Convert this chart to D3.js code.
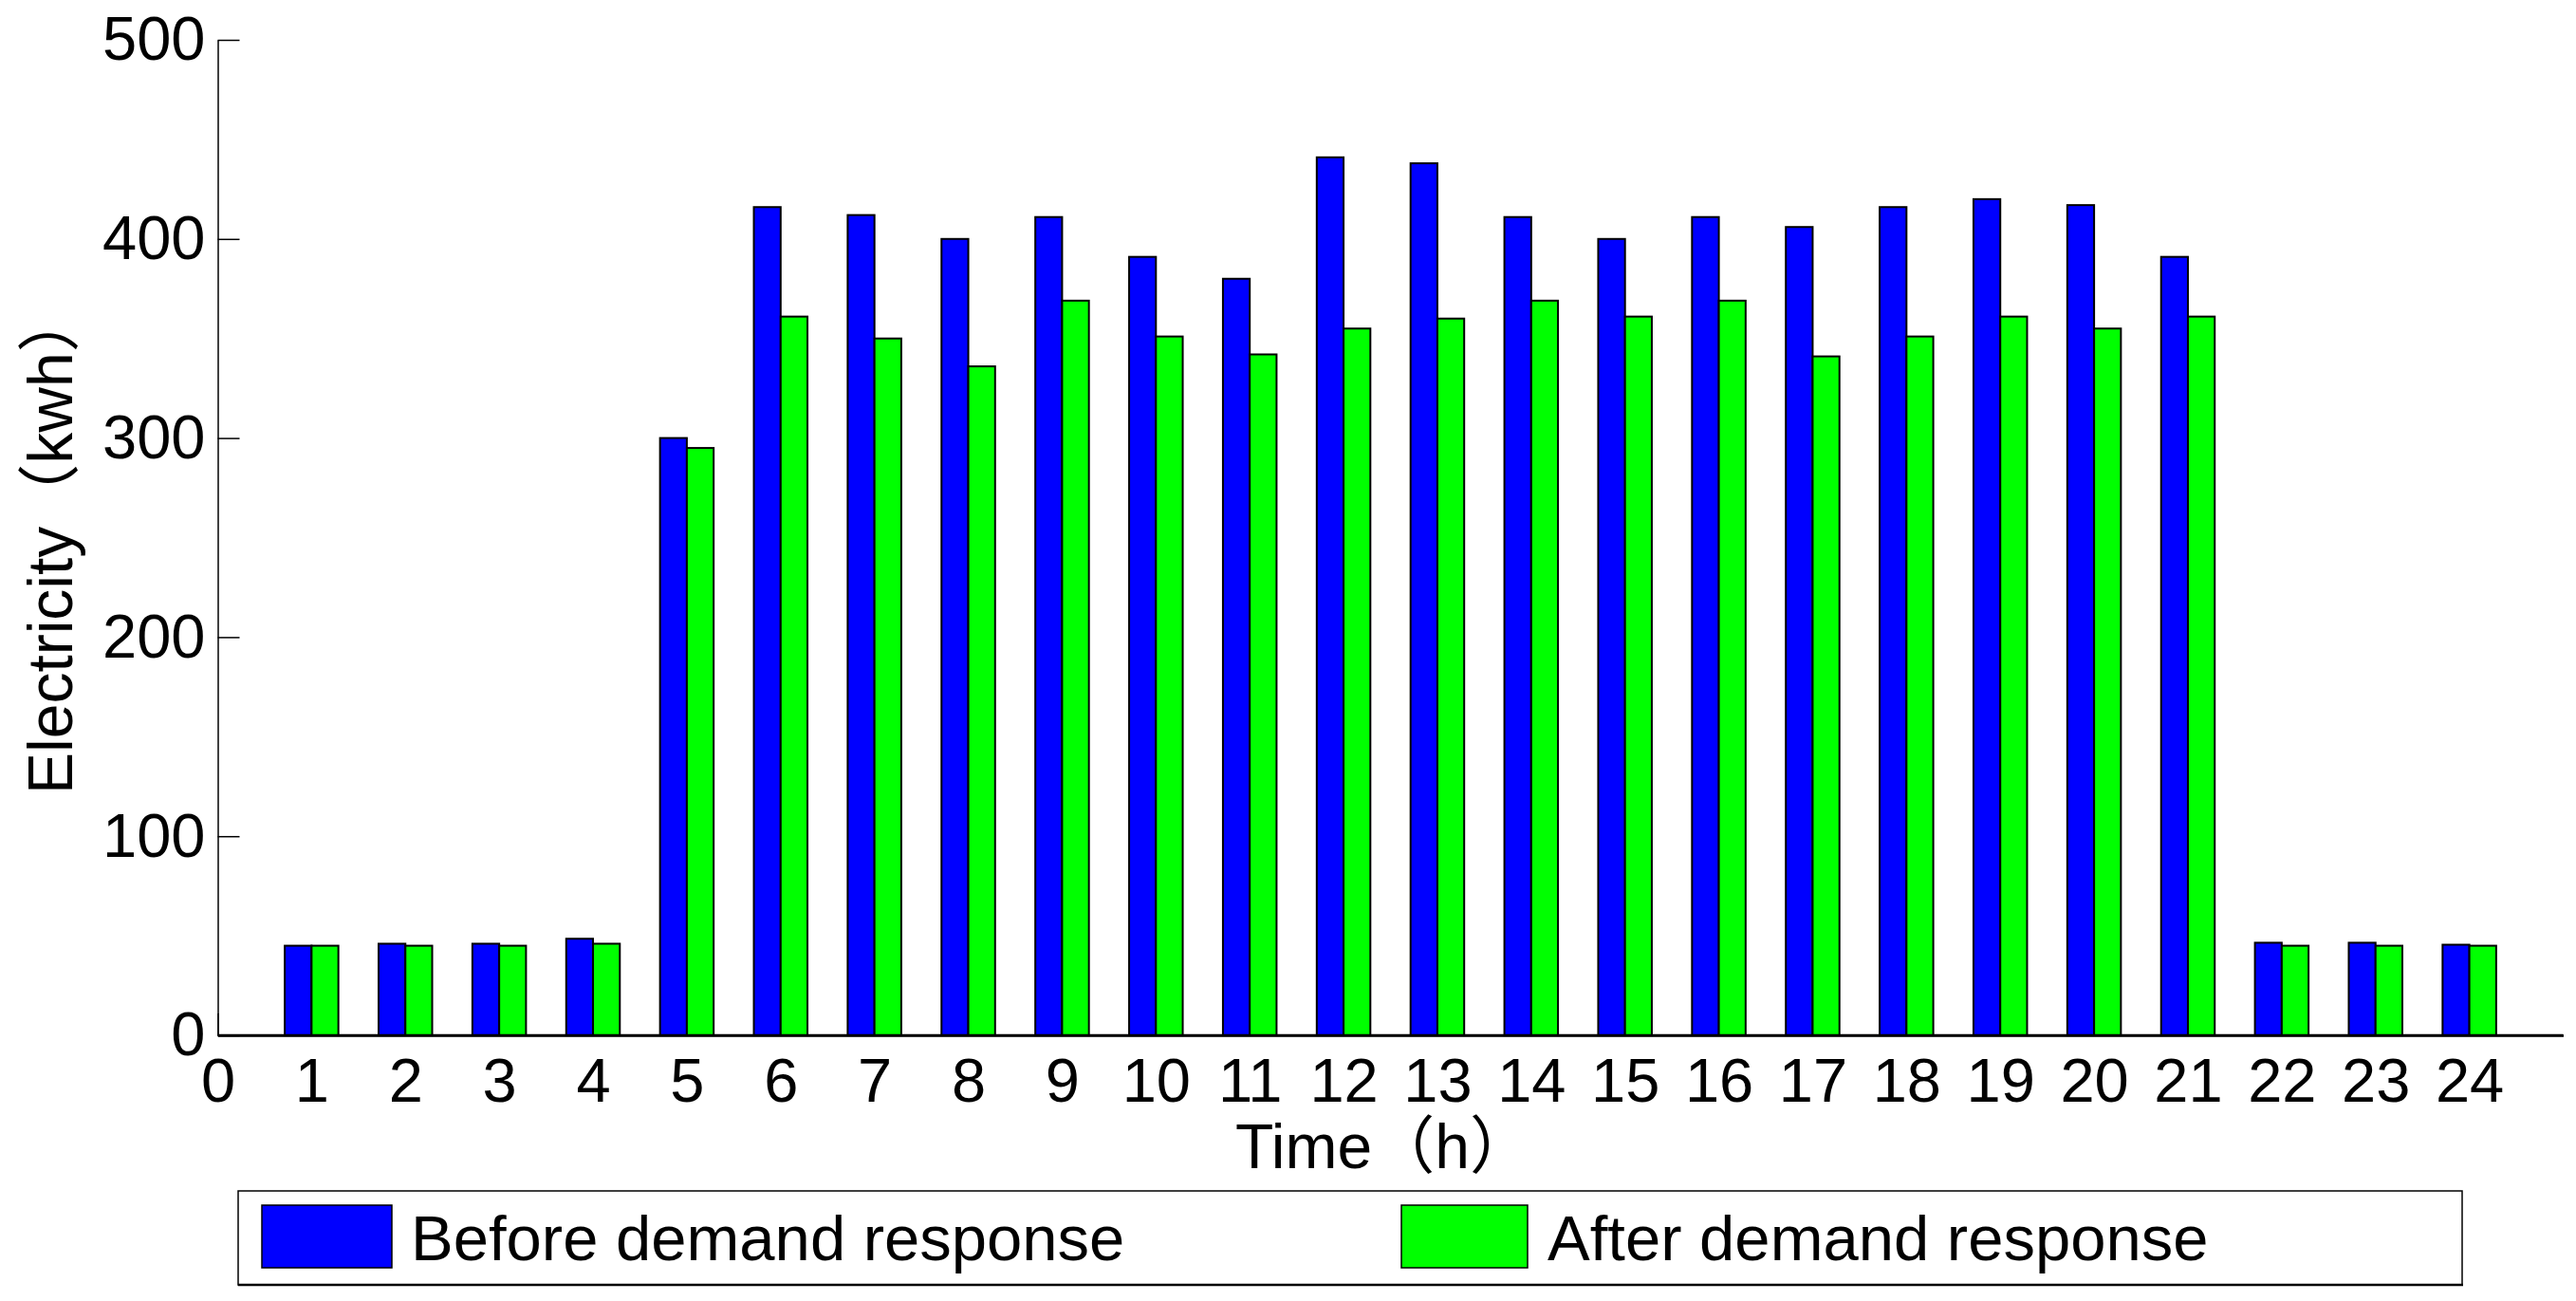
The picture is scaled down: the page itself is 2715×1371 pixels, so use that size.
<!DOCTYPE html>
<html>
<head>
<meta charset="utf-8">
<script src="https://cdn.jsdelivr.net/npm/d3@7"></script>
<style>
  html, body { margin: 0; padding: 0; background: #fff; }
  svg { display: block; }
  text { font-family: "Liberation Sans", Arial, "Noto Sans CJK SC", sans-serif; fill: #000; }
</style>
</head>
<body>
<svg id="chart" width="2715" height="1371"></svg>
<script>
// ---- data ----
const hours = [1,2,3,4,5,6,7,8,9,10,11,12,13,14,15,16,17,18,19,20,21,22,23,24];
const before = [45,46,46,48.5,300,416,412,400,411,391,380,441,438,411,400,411,406,416,420,417,391,46.5,46.5,45.5];
const after  = [45,45,45,46,295,361,350,336,369,351,342,355,360,369,361,369,341,351,361,355,361,45,45,45];
const seriesNames = ["Before demand response", "After demand response"];
const seriesColors = ["#0000FF", "#00FF00"];
const xTicks = [0,1,2,3,4,5,6,7,8,9,10,11,12,13,14,15,16,17,18,19,20,21,22,23,24];
const yTicks = [0,100,200,300,400,500];
const xLabel = "Time（h）";
const yLabel = "Electricity（kwh）";

// ---- layout ----
(function () {
const svg = d3.select("#chart");
const mLeft = 229.5, mRight = 2701.5, mTop = 42, mBottom = 1091;
const x = d3.scaleLinear().domain([0, 25]).range([mLeft, mRight]);
const y = d3.scaleLinear().domain([0, 500]).range([mBottom, mTop]);
const barW = 2 / 7; // bar width in x units

// y axis
const yAxis = svg.append("g")
  .attr("transform", `translate(${mLeft},0)`)
  .call(d3.axisLeft(y).tickValues(yTicks).tickSizeInner(-23).tickSizeOuter(0).tickPadding(13));
yAxis.selectAll("text").style("font-size", "65px");
yAxis.selectAll("line, path").attr("stroke", "#000").attr("stroke-width", 1.5);

// x axis
const xAxis = svg.append("g")
  .attr("transform", `translate(0,${mBottom})`)
  .call(d3.axisBottom(x).tickValues(xTicks).tickFormat(d3.format("d")).tickSizeInner(-23).tickSizeOuter(0).tickPadding(24));
xAxis.selectAll("text").style("font-size", "65px");
xAxis.selectAll("line").attr("stroke", "#000").attr("stroke-width", 1.5);
xAxis.select("path").attr("stroke", "#000").attr("stroke-width", 2.5);

// bars
const series = [before, after];
series.forEach((vals, si) => {
  svg.append("g").selectAll("rect")
    .data(hours.map((h, i) => ({h, v: vals[i]})))
    .join("rect")
    .attr("x", d => x(d.h - barW + si * barW))
    .attr("width", d => x(barW) - x(0))
    .attr("y", d => y(d.v))
    .attr("height", d => y(0) - y(d.v))
    .attr("fill", seriesColors[si])
    .attr("stroke", "#000")
    .attr("stroke-width", 2);
});

// redraw baseline on top
svg.append("line")
  .attr("x1", x(0)).attr("x2", x(25))
  .attr("y1", y(0)).attr("y2", y(0))
  .attr("stroke", "#000").attr("stroke-width", 2.5);

// axis labels
svg.append("text")
  .attr("x", 1302).attr("y", 1231)
  .style("font-size", "66px")
  .text(xLabel);

svg.append("text")
  .attr("transform", "translate(76,837) rotate(-90)")
  .style("font-size", "66px")
  .text(yLabel);

// legend
const lg = svg.append("g");
lg.append("rect")
  .attr("x", 251).attr("y", 1255).attr("width", 2595 - 251).attr("height", 1354 - 1255)
  .attr("fill", "#fff").attr("stroke", "#000").attr("stroke-width", 1.5);
lg.append("line").attr("x1", 251).attr("x2", 2596).attr("y1", 1354).attr("y2", 1354)
  .attr("stroke", "#000").attr("stroke-width", 2.5);
const legendPatchX = [276, 1477];
const legendPatchW = [137, 133];
const legendTextX = [433, 1631];
seriesNames.forEach((name, i) => {
  lg.append("rect")
    .attr("x", legendPatchX[i]).attr("y", 1270)
    .attr("width", legendPatchW[i]).attr("height", 66)
    .attr("fill", seriesColors[i]).attr("stroke", "#000").attr("stroke-width", 1.5);
  lg.append("text")
    .attr("x", legendTextX[i]).attr("y", 1328)
    .style("font-size", "67px")
    .text(name);
});
})();
</script>
</body>
</html>
